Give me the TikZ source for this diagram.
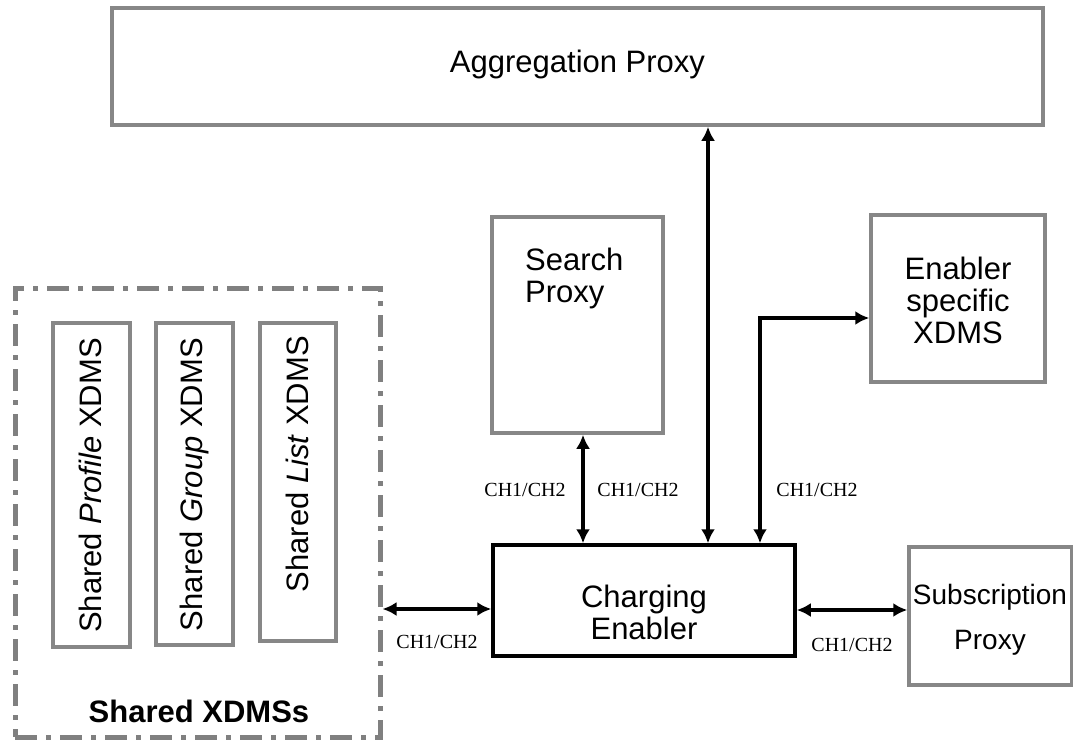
\documentclass[tikz,border=0pt]{standalone}
\usepackage{fontspec}
\setmainfont{Liberation Sans}
\newfontfamily\chfont{Liberation Serif}
\usetikzlibrary{arrows.meta}
\definecolor{boxgray}{RGB}{135,135,135}
\definecolor{dashgray}{RGB}{128,128,128}
\tikzset{
  graybox/.style={draw=boxgray, line width=3.5pt, inner sep=0pt},
  blackbox/.style={draw=black, line width=3.5pt, inner sep=0pt},
  grouping/.style={draw=dashgray, line width=5pt,
    dash pattern=on 22pt off 9pt on 5pt off 9pt, inner sep=0pt},
  lbl/.style={font=\fontsize{31}{32}\selectfont, align=center, inner sep=0pt},
  vlbl/.style={font=\fontsize{31}{32}\selectfont, rotate=90, anchor=east, inner sep=0pt},
  chlbl/.style={font=\chfont\fontsize{20}{22}\selectfont, inner sep=0pt},
  link/.style={line width=4pt, {Latex[length=14pt,width=14pt]}-{Latex[length=14pt,width=14pt]}},
}
\begin{document}
\begin{tikzpicture}[x=1pt,y=-1pt]
\useasboundingbox (0,0) rectangle (1073,745);

% top level proxy
\node[graybox, minimum width=931pt, minimum height=117pt] (agg) at (577.5,66.5) {};
\node[lbl] (aggtxt) at (577.5,64) {Aggregation Proxy};

% search proxy (text at the upper left)
\node[graybox, minimum width=171pt, minimum height=216pt] (search) at (577.5,325) {};
\node[lbl, align=left, anchor=north west] (searchtxt) at (525,248) {Search\\Proxy};

% enabler specific XDMS
\node[graybox, minimum width=174pt, minimum height=167pt] (ens) at (958,298.5) {};
\node[lbl] (enstxt) at (958,300) {Enabler\\specific\\XDMS};

% charging enabler
\node[blackbox, minimum width=302pt, minimum height=111pt] (chg) at (644,600.5) {};
\node[lbl] (chgtxt) at (644,612) {Charging\\Enabler};

% subscription proxy
\node[graybox, minimum width=163pt, minimum height=138pt] (sub) at (990.5,616) {};
\node[lbl, font=\fontsize{28}{45}\selectfont] (subtxt) at (990,620) {Subscription\\Proxy};

% shared XDMS group
\node[grouping, minimum width=365pt, minimum height=449pt] (shared) at (197.5,512.5) {};
\node[font=\bfseries\fontsize{31}{32}\selectfont, inner sep=0pt] (sharedtxt) at (199,711) {Shared XDMSs};

\node[graybox, minimum width=77pt, minimum height=324pt] (prof) at (91.5,485) {};
\node[graybox, minimum width=77pt, minimum height=322pt] (grp) at (194.5,484) {};
\node[graybox, minimum width=76pt, minimum height=318pt] (lst) at (298,482) {};
\node[vlbl] (proftxt) at (90,338) {Shared \textit{Profile} XDMS};
\node[vlbl] (grptxt) at (194,338) {Shared \textit{Group} XDMS};
\node[vlbl] (lsttxt) at (297,336) {Shared \textit{List} XDMS};

% connector reference points
\coordinate (sx) at (583,0);
\coordinate (ax) at (708,0);
\coordinate (ex) at (760,0);
\coordinate (ey) at (0,318);
\coordinate (ly) at (0,609);
\coordinate (ry) at (0,610);

% connectors
\draw[link] (shared.east |- ly) -- (chg.west |- ly);
\draw[link] (search.south -| sx) -- (chg.north -| sx);
\draw[link] (agg.south -| ax) -- (chg.north -| ax);
\draw[link] (chg.north -| ex) |- (ens.west |- ey);
\draw[link] (chg.east |- ry) -- (sub.west |- ry);

% interface labels
\node[chlbl] (ch1) at (437,642) {CH1/CH2};
\node[chlbl] (ch2) at (525,490) {CH1/CH2};
\node[chlbl] (ch3) at (638,490) {CH1/CH2};
\node[chlbl] (ch4) at (817,490) {CH1/CH2};
\node[chlbl] (ch5) at (852,645) {CH1/CH2};
\end{tikzpicture}
\end{document}
